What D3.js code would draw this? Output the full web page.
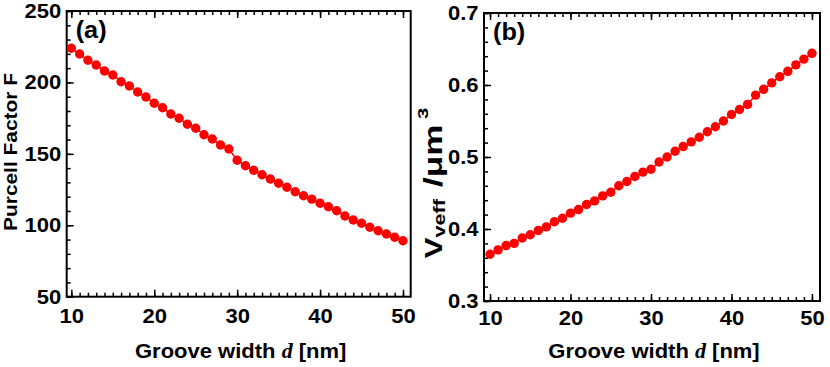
<!DOCTYPE html>
<html>
<head>
<meta charset="utf-8">
<script src="https://cdn.jsdelivr.net/npm/d3@7"></script>
<style>
  body { margin: 0; background: #fff; }
  svg { display: block; }
</style>
</head>
<body>
<script>
// groove width d [nm]
const grooveWidth = [10, 11, 12, 13, 14, 15, 16, 17, 18, 19, 20, 21, 22, 23, 24, 25, 26, 27, 28, 29, 30,
    31, 32, 33, 34, 35, 36, 37, 38, 39, 40, 41, 42, 43, 44, 45, 46, 47, 48, 49, 50];

// panel (a) Purcell factor F
const purcellFactor = [223.9, 219.9, 215.5, 212.2, 208.0, 205.2, 200.5, 197.5, 193.3, 189.8, 185.4,
    182.3, 177.9, 174.9, 170.7, 167.9, 163.4, 160.4, 156.2, 153.4, 145.5,
    141.7, 138.5, 135.4, 132.4, 129.4, 126.6, 123.5, 120.7, 118.3, 115.4,
    113.0, 110.2, 106.5, 103.7, 101.4, 98.6, 96.2, 93.9, 91.6, 89.2];

// panel (b) effective mode volume /um^3
const modeVolume = [0.365, 0.371, 0.377, 0.380, 0.3875, 0.392, 0.398, 0.403, 0.410, 0.415, 0.422,
    0.427, 0.434, 0.439, 0.446, 0.451, 0.460, 0.466, 0.473, 0.479, 0.483,
    0.493, 0.500, 0.508, 0.5145, 0.521, 0.5275, 0.535, 0.542, 0.550, 0.559,
    0.566, 0.573, 0.586, 0.594, 0.603, 0.6115, 0.619, 0.628, 0.636, 0.644];

const xTickValues = [10, 20, 30, 40, 50];
const purcellTickValues = [50, 100, 150, 200, 250];
const volumeTickValues = [0.3, 0.4, 0.5, 0.6, 0.7];

const stretch = 1.1;

const svg = d3.select('body').append('svg')
    .attr('width', 830)
    .attr('height', 367)
    .style('font-family', '"Liberation Sans", Arial, sans-serif')
    .style('font-weight', 'bold');

function drawPanel(p) {
    const x = d3.scaleLinear().domain(p.xDomain).range([p.left, p.right]);
    const y = d3.scaleLinear().domain(p.yDomain).range([p.bottom, p.top]);
    const g = svg.append('g');

    // minor ticks
    const xMinor = d3.range(10, 51, 1);
    g.append('g').attr('transform', `translate(0,${p.bottom})`)
        .call(d3.axisBottom(x).tickValues(xMinor).tickSize(-4).tickFormat(''));
    g.append('g').attr('transform', `translate(0,${p.top})`)
        .call(d3.axisTop(x).tickValues(xMinor).tickSize(-4).tickFormat(''));
    g.append('g').attr('transform', `translate(${p.left},0)`)
        .call(d3.axisLeft(y).tickValues(p.yMinor).tickSize(-4).tickFormat(''));

    // major ticks + labels
    const xAxis = g.append('g').attr('transform', `translate(0,${p.bottom})`)
        .call(d3.axisBottom(x).tickValues(xTickValues).tickSize(-7).tickPadding(p.xPad).tickFormat(d3.format('d')));
    g.append('g').attr('transform', `translate(0,${p.top})`)
        .call(d3.axisTop(x).tickValues(xTickValues).tickSize(-7).tickFormat(''));
    const yAxis = g.append('g').attr('transform', `translate(${p.left},0)`)
        .call(d3.axisLeft(y).tickValues(p.yTicks).tickSize(-7).tickPadding(5).tickFormat(p.yFormat));

    g.selectAll('.domain').remove();
    g.selectAll('.tick line').attr('stroke', '#000').attr('stroke-width', 1.5);
    [xAxis, yAxis].forEach(a => a.selectAll('text')
        .attr('fill', '#000')
        .style('font-size', '20px')
        .style('font-family', '"Liberation Sans", Arial, sans-serif')
        .style('font-weight', 'bold')
        .attr('transform', `scale(${stretch},1)`));

    // frame
    g.append('rect')
        .attr('x', p.left).attr('y', p.top)
        .attr('width', p.right - p.left).attr('height', p.bottom - p.top)
        .attr('fill', 'none').attr('stroke', '#000').attr('stroke-width', 2);

    // data
    const pts = grooveWidth.map((d, i) => [d, p.values[i]]);
    g.append('path')
        .datum(pts)
        .attr('fill', 'none')
        .attr('stroke', '#ff0000')
        .attr('stroke-width', 1.5)
        .attr('d', d3.line().x(d => x(d[0])).y(d => y(d[1])));
    g.selectAll('circle.pt').data(pts).enter().append('circle')
        .attr('class', 'pt')
        .attr('cx', d => x(d[0]))
        .attr('cy', d => y(d[1]))
        .attr('r', 4.7)
        .attr('fill', '#ff0000');

    // panel tag
    g.append('text')
        .attr('transform', `translate(${p.left + 9},${p.top + 27}) scale(${stretch},1)`)
        .style('font-size', '23px')
        .text(p.tag);

    // x title
    const xt = g.append('text')
        .attr('transform', `translate(${(p.left + p.right) / 2 + 2},358) scale(${stretch},1)`)
        .attr('text-anchor', 'middle')
        .style('font-size', '20px');
    xt.append('tspan').text('Groove width ');
    xt.append('tspan').text('d')
        .style('font-family', '"Liberation Serif", "Times New Roman", serif')
        .style('font-style', 'italic');
    xt.append('tspan').text(' [nm]');

    return g;
}

const ga = drawPanel({
    left: 66.7, right: 410.7, top: 11, bottom: 296.7,
    xDomain: [9.44, 50.93], yDomain: [50, 250],
    yTicks: purcellTickValues, yMinor: d3.range(50, 251, 10),
    yFormat: d3.format('d'), values: purcellFactor, tag: '(a)', xPad: 12
});

ga.append('text')
    .attr('transform', `translate(17,152) rotate(-90) scale(1.13,1)`)
    .attr('text-anchor', 'middle')
    .style('font-size', '18.5px')
    .text('Purcell Factor F');

const gb = drawPanel({
    left: 484, right: 820, top: 13, bottom: 301,
    xDomain: [9.25, 51.0], yDomain: [0.3, 0.7],
    yTicks: volumeTickValues, yMinor: d3.range(0.3, 0.7001, 0.02),
    yFormat: d3.format('.1f'), values: modeVolume, tag: '(b)', xPad: 10
});

const vt = gb.append('text')
    .attr('transform', `translate(442,183) rotate(-90) scale(1.35,1)`)
    .attr('text-anchor', 'middle')
    .style('font-size', '23px');
vt.append('tspan').text('V');
vt.append('tspan').text('veff').style('font-size', '16px').attr('dy', 3);
vt.append('tspan').text('/μm').style('font-size', '26px').attr('dx', 9).attr('dy', -3);
vt.append('tspan').text('3').style('font-size', '15px').attr('dy', -14).attr('dx', 4);
</script>
</body>
</html>
